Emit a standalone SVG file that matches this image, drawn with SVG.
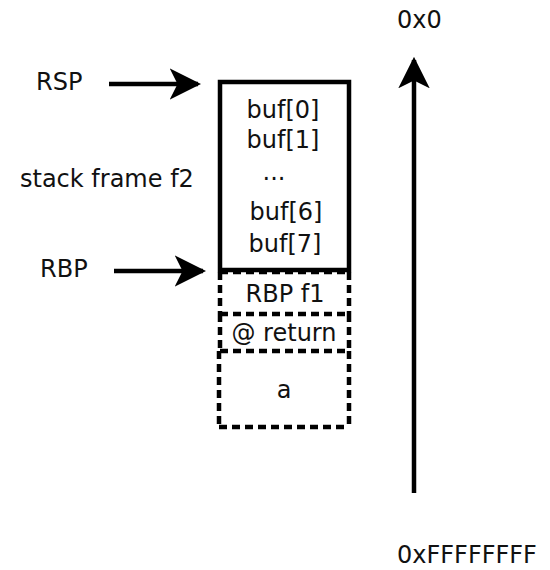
<svg xmlns="http://www.w3.org/2000/svg" width="550" height="570" viewBox="0 0 550 570">
  <style>
    text { font-family: "DejaVu Sans", sans-serif; font-size: 24px; fill: #111; }
    .mid { text-anchor: middle; }
    .solid { fill: none; stroke: #000; stroke-width: 4.5; }
    .dash { fill: none; stroke: #000; stroke-width: 4.5; stroke-dasharray: 8 5; }
    .conn { stroke: #000; stroke-width: 4.5; fill: none; }
  </style>
  <defs>
    <marker id="head" viewBox="0 0 10 10" refX="9" refY="5" markerWidth="7" markerHeight="7" markerUnits="strokeWidth" orient="auto">
      <path d="M0,0 L10,5 L0,10 L2.5,5 Z" fill="#000"/>
    </marker>
  </defs>

  <rect width="550" height="570" fill="#fff"/>

  <g id="connectors">
    <line class="conn" x1="109" y1="84" x2="198" y2="84" marker-end="url(#head)"/>
    <line class="conn" x1="114" y1="271" x2="203" y2="271" marker-end="url(#head)"/>
    <line class="conn" x1="414" y1="493" x2="414" y2="60" marker-end="url(#head)"/>
  </g>

  <g id="label-rsp"><text x="36" y="90">RSP</text></g>
  <g id="label-frame"><text x="20" y="187">stack frame f2</text></g>
  <g id="label-rbp"><text x="40" y="277">RBP</text></g>
  <g id="label-top"><text x="397" y="28">0x0</text></g>
  <g id="label-bottom"><text x="397" y="563">0xFFFFFFFF</text></g>

  <g id="buf">
    <rect class="solid" x="220" y="82" width="129" height="188"/>
    <text class="mid" x="283" y="118">buf[0]</text>
    <text class="mid" x="283" y="148">buf[1]</text>
    <text class="mid" x="274" y="180">...</text>
    <text class="mid" x="286" y="220">buf[6]</text>
    <text class="mid" x="285" y="252">buf[7]</text>
  </g>

  <!-- dashed cells drawn edge by edge so shared borders keep their gaps -->
  <g id="rbp-f1">
    <path class="dash" d="M220,272 H349 M220,272 V314 M349,272 V314 M220,314 H349"/>
    <text class="mid" x="285" y="302">RBP f1</text>
  </g>

  <g id="return-addr">
    <path class="dash" d="M220,314 V351 M349,314 V351 M220,351 H349"/>
    <text class="mid" x="284" y="341">@ return</text>
  </g>

  <g id="arg-a">
    <path class="dash" d="M219,351 V427 M349,351 V427 M219,427 H349"/>
    <text class="mid" x="284" y="398">a</text>
  </g>
</svg>
